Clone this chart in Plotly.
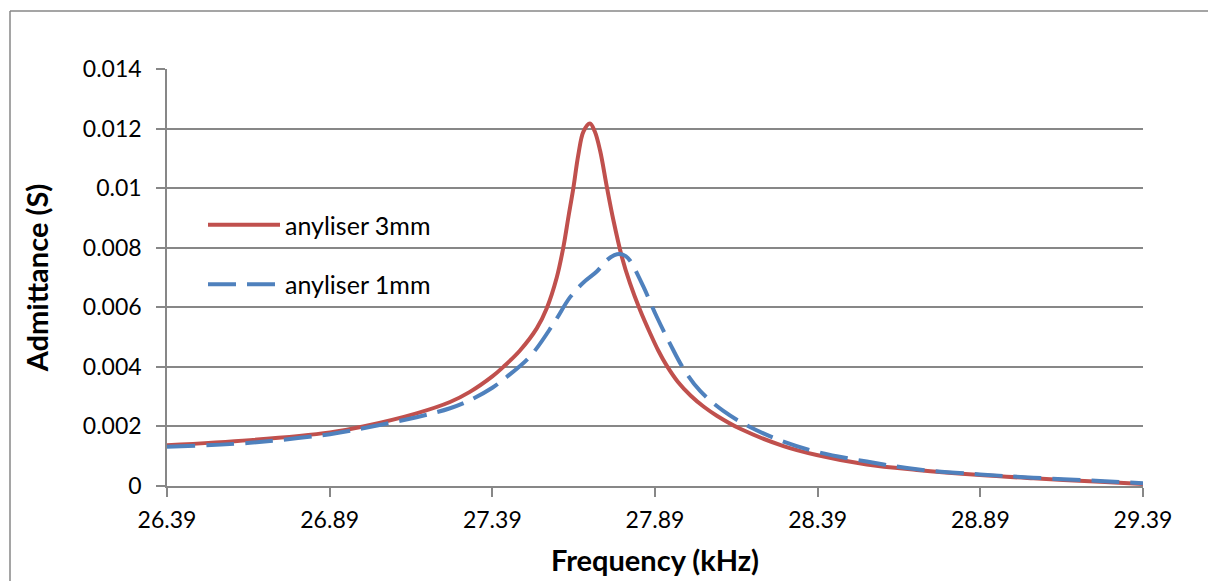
import plotly.graph_objects as go

# ---- data ----
freq_3mm = [26.39, 26.645, 26.891, 26.993, 27.157, 27.26, 27.321, 27.39, 27.424, 27.475, 27.527,
            27.557, 27.588, 27.608, 27.624, 27.639, 27.654, 27.670, 27.690, 27.705, 27.721, 27.742,
            27.762, 27.788, 27.813, 27.844, 27.875, 27.90, 27.926, 27.96, 28.0, 28.04, 28.08, 28.152, 28.285,
            28.387, 28.541, 28.695, 28.889, 29.053, 29.258, 29.39]
adm_3mm = [0.00137, 0.00154, 0.00180, 0.00200, 0.00244, 0.00282, 0.00316, 0.00368, 0.00400, 0.00455, 0.00530,
           0.00596, 0.00700, 0.00800, 0.00904, 0.01000, 0.01110, 0.01190, 0.01217, 0.01190, 0.01127, 0.01004,
           0.00893, 0.00770, 0.00681, 0.00591, 0.00513, 0.00455, 0.00404, 0.00350, 0.00303, 0.00266, 0.00236, 0.00192, 0.00134,
           0.00104, 0.00072, 0.00054, 0.00037, 0.00026, 0.00014, 0.00007]

freq_1mm = [26.39, 26.645, 26.891, 26.993, 27.157, 27.26, 27.321, 27.39, 27.434, 27.506, 27.578,
            27.629, 27.670, 27.711, 27.742, 27.765, 27.782, 27.80, 27.813, 27.854, 27.895, 27.936, 27.977,
            28.028, 28.1, 28.182, 28.285, 28.387, 28.541, 28.695, 28.889, 29.053, 29.258, 29.39]
adm_1mm = [0.00132, 0.00145, 0.00174, 0.00194, 0.00231, 0.00261, 0.00288, 0.00330, 0.00366, 0.00435, 0.00545,
           0.00634, 0.00683, 0.00720, 0.00758, 0.00775, 0.00779, 0.00772, 0.00757, 0.00670, 0.00569, 0.00478, 0.00395,
           0.00320, 0.00252, 0.00198, 0.00149, 0.00115, 0.00082, 0.00056, 0.00039, 0.00028, 0.00017, 0.00009]

x_ticks = [26.39, 26.89, 27.39, 27.89, 28.39, 28.89, 29.39]
x_tick_labels = ["26.39", "26.89", "27.39", "27.89", "28.39", "28.89", "29.39"]
y_ticks = [0, 0.002, 0.004, 0.006, 0.008, 0.010, 0.012, 0.014]
y_tick_labels = ["0", "0.002", "0.004", "0.006", "0.008", "0.01", "0.012", "0.014"]

series_names = ["anyliser 3mm", "anyliser 1mm"]

# ---- figure ----
RED = "#C0504D"
BLUE = "#4F81BD"
GRID = "#878787"
FONT = "Lato"

W, H = 1208, 581
L, R, T, B = 167, 65, 69, 95
pw, ph = W - L - R, H - T - B

fig = go.Figure()
fig.add_trace(go.Scatter(x=freq_3mm, y=adm_3mm, mode="lines", name=series_names[0],
                         legendgroup="a",
                         line=dict(color=RED, width=4, shape="spline", smoothing=1.0)))
fig.add_trace(go.Scatter(x=freq_1mm, y=adm_1mm, mode="lines", name=series_names[1],
                         legendgroup="b",
                         line=dict(color=BLUE, width=4, dash="28px,11px", shape="spline", smoothing=1.0)))

fig.update_layout(
    width=W, height=H,
    margin=dict(l=L, r=R, t=T, b=B, autoexpand=False),
    paper_bgcolor="white", plot_bgcolor="white",
    font=dict(family=FONT, color="black", size=23),
    showlegend=True,
    legend=dict(x=(203 - L) / pw, y=(486 - 202) / ph, xanchor="left", yanchor="top",
                bgcolor="rgba(0,0,0,0)", font=dict(size=25, family=FONT),
                tracegroupgap=24, itemwidth=72),
    xaxis=dict(range=[26.39, 29.39], tickmode="array", tickvals=x_ticks, ticktext=x_tick_labels,
               showgrid=False, zeroline=False, showline=True, linecolor=GRID, linewidth=1.5,
               ticks="outside", ticklen=9, tickcolor=GRID, tickwidth=1.5,
               tickfont=dict(size=23, family=FONT), ticklabelstandoff=4,
               title=dict(text="<b>Frequency (kHz)</b>", font=dict(size=29, family=FONT), standoff=18)),
    yaxis=dict(range=[0, 0.014], tickmode="array", tickvals=y_ticks, ticktext=y_tick_labels,
               showgrid=True, gridcolor=GRID, gridwidth=1.5, zeroline=False,
               showline=True, linecolor=GRID, linewidth=1.5,
               ticks="outside", ticklen=9, tickcolor=GRID, tickwidth=1.5,
               tickfont=dict(size=23, family=FONT), ticklabelstandoff=10,
               title=dict(text="<b>Admittance (S)</b>", font=dict(size=29, family=FONT), standoff=26)),
    shapes=[
        dict(type="line", xref="paper", yref="paper",
             x0=(10 - L) / pw, x1=(W - L) / pw, y0=(486 - 11) / ph, y1=(486 - 11) / ph,
             line=dict(color=GRID, width=1.5), layer="below"),
        dict(type="line", xref="paper", yref="paper",
             x0=(10 - L) / pw, x1=(10 - L) / pw, y0=(486 - H) / ph, y1=(486 - 11) / ph,
             line=dict(color=GRID, width=1.5), layer="below"),
    ],
)

fig.write_html("out.html", config={"displayModeBar": False},
               post_script="document.body.style.margin='0';document.body.style.overflow='hidden';")
